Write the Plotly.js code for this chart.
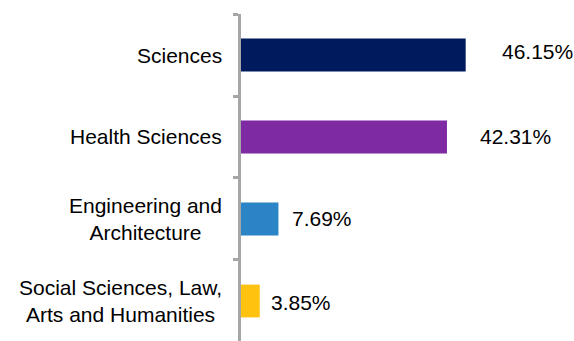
<!DOCTYPE html>
<html>
<head>
<meta charset="utf-8">
<script src="https://cdn.plot.ly/plotly-3.0.1.min.js"></script>
<style>html,body{margin:0;padding:0;background:#fff;}#chart{width:574px;height:341px;}</style>
</head>
<body>
<div id="chart"></div>
<script>
var categories = ["Sciences", "Health Sciences", "Engineering and<br>Architecture", "Social Sciences, Law,<br>Arts and Humanities"];
var values = [46.15, 42.31, 7.69, 3.85];
var valueLabels = ["46.15%", "42.31%", "7.69%", "3.85%"];
var barColors = ["#001A5E", "#7D2AA3", "#2A84C6", "#FFC20E"];

var labelXShift = [34, 31, 12, 9];
var labelYShift = [4, 0, 0, -2];
var FONT = "Liberation Sans, Arial, sans-serif";

var trace = {
  type: "bar",
  orientation: "h",
  x: values,
  y: categories,
  marker: {color: barColors, line: {width: 0}},
  hoverinfo: "none"
};

var annotations = [];
for (var i = 0; i < categories.length; i++) {
  annotations.push({
    x: values[i], y: categories[i], xref: "x", yref: "y",
    text: valueLabels[i], showarrow: false, xanchor: "left",
    xshift: labelXShift[i], yshift: labelYShift[i],
    font: {family: FONT, size: 21, color: "#000"}
  });
  annotations.push({
    x: 0, y: categories[i], xref: "paper", yref: "y",
    text: categories[i], showarrow: false, xanchor: "right", align: "center",
    xshift: -17, yshift: 0,
    font: {family: FONT, size: 21, color: "#000"}
  });
}

var layout = {
  width: 574, height: 341,
  margin: {l: 241, r: 0, t: 14, b: 0, pad: 0},
  paper_bgcolor: "#fff", plot_bgcolor: "#fff",
  showlegend: false,
  bargap: 0.6,
  xaxis: {range: [0, 68.4], showgrid: false, zeroline: false, showline: false, showticklabels: false, ticks: "", fixedrange: true},
  yaxis: {
    type: "category", autorange: false, range: [3.488, -0.5],
    showgrid: false, zeroline: false, showticklabels: false,
    showline: true, linecolor: "#A6A6A6", linewidth: 3,
    ticks: "outside", tickson: "boundaries", ticklen: 5, tickwidth: 3, tickcolor: "#A6A6A6"
  },
  annotations: annotations,
  font: {family: FONT, size: 21, color: "#000"}
};

Plotly.newPlot("chart", [trace], layout, {staticPlot: true, displayModeBar: false});
</script>
</body>
</html>
